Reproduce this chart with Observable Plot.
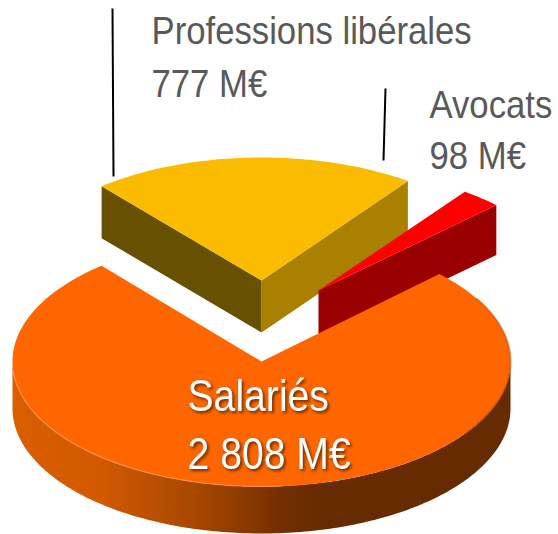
<!DOCTYPE html>
<html>
<head>
<meta charset="utf-8">
<script src="https://cdn.jsdelivr.net/npm/d3@7"></script>
<script src="https://cdn.jsdelivr.net/npm/@observablehq/plot@0.6"></script>
<style>
html,body{margin:0;padding:0;background:#fff;}
</style>
</head>
<body>
<div id="chart"></div>
<script>
// Data (millions of euros), clockwise from the pie's start angle
const categories = ["Avocats", "Salariés", "Professions libérales"];
const amounts = [98, 2808, 777];

// Layout of the pseudo-3D exploded pie
const W = 558, H = 534;
const startAngle = 36;               // degrees clockwise from the top
const RX = 249;                      // flattened-disc horizontal radius
const placement = {                  // exploded apex x, y, wall depth, vertical radius
  "Avocats": [318, 290, 50, 122],
  "Salariés": [261, 361, 47, 125],
  "Professions libérales": [261, 280, 52, 123]
};
const faceColors = {
  "Avocats": {top: "#ff0000", start: "#990000", end: "#990000"},
  "Salariés": {top: "#ff6600"},
  "Professions libérales": {top: "#fbbc00", start: "#a98000", end: "#675000"}
};

const total = d3.sum(amounts);
let acc = startAngle;
const slices = categories.map((name, i) => {
  const a0 = acc, a1 = acc + amounts[i] / total * 360;
  acc = a1;
  const [cx, cy, depth, ry] = placement[name];
  return {name, a0, a1, cx, cy, depth, ry};
});
const rad = Math.PI / 180;
const rim = (s, t, dz = 0) => ({
  x: s.cx + RX * Math.sin(t * rad),
  y: s.cy - s.ry * Math.cos(t * rad) + dz
});
const arc = (s, a0, a1, dz = 0) => {
  const n = Math.max(2, Math.ceil(Math.abs(a1 - a0)));
  return d3.range(n + 1).map(i => rim(s, a0 + (a1 - a0) * i / n, dz));
};
const apex = (s, dz = 0) => ({x: s.cx, y: s.cy + dz});
const topFace = s => [apex(s), ...arc(s, s.a0, s.a1)];
const radialFace = (s, t) => [apex(s), rim(s, t), rim(s, t, s.depth), apex(s, s.depth)];
const outerWall = (s, a0, a1) => [...arc(s, a0, a1), ...arc(s, a1, a0, s.depth)];
const poly = (points, fill) =>
  Plot.line(points, {x: "x", y: "y", fill, stroke: "none", curve: "linear"});
const edge = (points, stroke, strokeWidth, strokeOpacity) =>
  Plot.line(points, {x: "x", y: "y", stroke, strokeWidth, strokeOpacity, curve: "linear"});

const [avocats, salaries, liberales] = slices;

// Labels
const fmt = v => String(v).replace(/\B(?=(\d{3})+$)/g, " ") + " M€";
const outerSize = 39, innerSize = 44;
const labelRows = [
  {text: categories[2], x: 151, base: 43, fill: "#595959"},
  {text: fmt(amounts[2]), x: 151, base: 96, fill: "#595959"},
  {text: categories[0], x: 429, base: 117, fill: "#595959"},
  {text: fmt(amounts[0]), x: 429, base: 168, fill: "#595959"}
];
const innerRows = [
  {text: categories[1], x: 187, base: 410, fill: "#ffffff"},
  {text: fmt(amounts[1]), x: 187, base: 468, fill: "#ffffff"}
];
const leaders = [
  {x1: 112, y1: 8, x2: 113, y2: 176},
  {x1: 385, y1: 88, x2: 383, y2: 160}
];
const textMark = (rows, size) => Plot.text(rows, {
  x: "x", y: d => d.base - 0.32 * size, text: "text", fill: "fill",
  fontSize: size, fontFamily: "Liberation Sans, Arial, sans-serif",
  textAnchor: "start"
});

const defs = () => {
  const ns = "http://www.w3.org/2000/svg";
  const d = document.createElementNS(ns, "defs");
  const g = document.createElementNS(ns, "linearGradient");
  g.setAttribute("id", "wallGradient");
  [[0, "#db5e00"], [0.177, "#d25900"], [0.277, "#bb5000"], [0.378, "#a54600"],
   [0.478, "#873800"], [0.536, "#742f00"], [0.618, "#662b00"], [1, "#662b00"]]
    .forEach(([o, c]) => {
      const st = document.createElementNS(ns, "stop");
      st.setAttribute("offset", o);
      st.setAttribute("stop-color", c);
      g.appendChild(st);
    });
  d.appendChild(g);
  return d;
};

const plot = Plot.plot({
  width: W, height: H,
  margin: 0,
  x: {domain: [0, W], range: [0, W], axis: null},
  y: {domain: [0, H], range: [0, H], axis: null},
  style: {background: "#fff", display: "block"},
  marks: [
    defs,
    // Professions libérales
    poly(radialFace(liberales, liberales.a1 % 360), faceColors[liberales.name].start),
    poly(radialFace(liberales, liberales.a0), faceColors[liberales.name].end),
    poly(topFace(liberales), faceColors[liberales.name].top),
    // Avocats
    poly(radialFace(avocats, avocats.a1), faceColors[avocats.name].start),
    poly(topFace(avocats), faceColors[avocats.name].top),
    // Salariés
    poly(outerWall(salaries, 90, 270), "url(#wallGradient)"),
    poly(topFace(salaries), faceColors[salaries.name].top),
    // soft bevel along the disc's rim
    edge(arc(salaries, 175, 265), "#ff9a55", 1.2, 0.7),
    edge(arc(salaries, 60, 125), "#c95000", 2, 0.55),
    // Leader lines
    Plot.link(leaders, {x1: "x1", y1: "y1", x2: "x2", y2: "y2", stroke: "#000", strokeWidth: 2}),
    textMark(labelRows, outerSize),
    textMark(innerRows, innerSize)
  ]
});
document.getElementById("chart").appendChild(plot);

// The reference's text is horizontally condensed and the inner labels carry a shadow
const condense = 0.89;
const innerTexts = new Set(innerRows.map(d => d.text));
plot.querySelectorAll("text").forEach(t => {
  const tr = t.getAttribute("transform");
  if (tr) {
    t.setAttribute("transform", `${tr} scale(${condense},1)`);
  } else {
    const x = +t.getAttribute("x") || 0, y = +t.getAttribute("y") || 0;
    t.removeAttribute("x"); t.removeAttribute("y");
    t.setAttribute("transform", `translate(${x},${y}) scale(${condense},1)`);
  }
  if (innerTexts.has(t.textContent)) {
    t.style.filter = "drop-shadow(2px 2px 1.5px rgba(70,30,0,.8))";
  }
});
</script>
</body>
</html>
